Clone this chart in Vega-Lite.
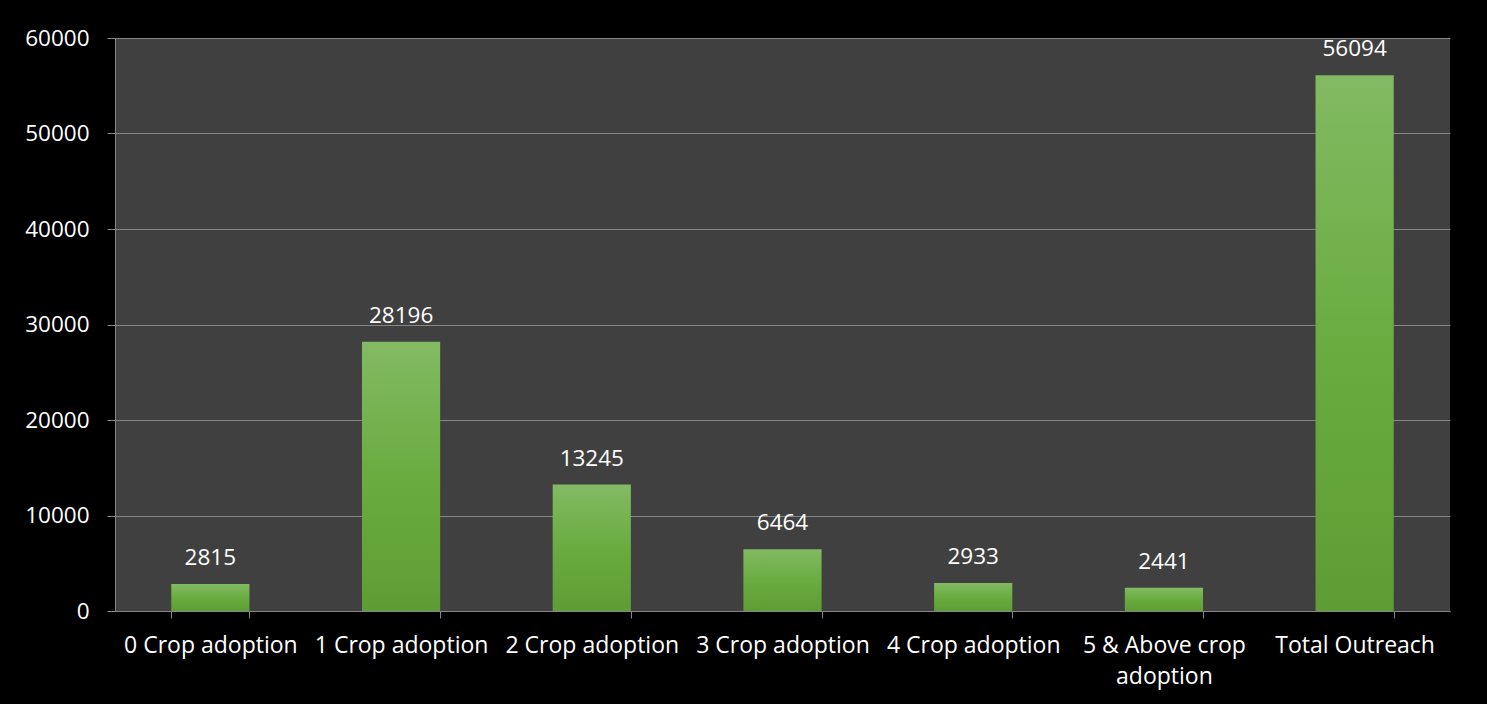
{
  "$schema": "https://vega.github.io/schema/vega-lite/v6.json",
  "width": 1335,
  "height": 573,
  "autosize": {"type": "none"},
  "padding": {"left": 115, "top": 38, "right": 37, "bottom": 93},
  "background": "#000000",
  "config": {
    "view": {"fill": "#404040", "stroke": null},
    "font": "Open Sans"
  },
  "data": {
    "values": [
      {"category": "0 Crop adoption", "value": 2815},
      {"category": "1 Crop adoption", "value": 28196},
      {"category": "2 Crop adoption", "value": 13245},
      {"category": "3 Crop adoption", "value": 6464},
      {"category": "4 Crop adoption", "value": 2933},
      {"category": "5 & Above crop adoption", "value": 2441},
      {"category": "Total Outreach", "value": 56094}
    ]
  },
  "encoding": {
    "x": {
      "field": "category",
      "type": "nominal",
      "sort": null,
      "scale": {"paddingInner": 0.59, "paddingOuter": 0.295},
      "axis": {
        "title": null,
        "labelAngle": 0,
        "labelColor": "#ffffff",
        "labelFontSize": 23,
        "labelFont": "Open Sans",
        "labelPadding": 16,
        "labelLineHeight": 31,
        "labelExpr": "datum.label == '5 & Above crop adoption' ? ['5 & Above crop', 'adoption'] : datum.label",
        "tickBand": "extent",
        "tickColor": "#868686",
        "tickSize": 7,
        "tickWidth": 1,
        "domainColor": "#868686",
        "domainWidth": 1,
        "grid": false
      }
    },
    "y": {
      "field": "value",
      "type": "quantitative",
      "scale": {"domain": [0, 60000], "nice": false},
      "axis": {
        "title": null,
        "values": [0, 10000, 20000, 30000, 40000, 50000, 60000],
        "format": "d",
        "labelColor": "#ffffff",
        "labelFontSize": 22.5,
        "labelFont": "Open Sans",
        "labelPadding": 18,
        "tickColor": "#868686",
        "tickSize": 8,
        "domainColor": "#868686",
        "grid": true,
        "gridColor": "#868686",
        "gridWidth": 1
      }
    }
  },
  "layer": [
    {
      "mark": {
        "type": "bar",
        "color": {
          "gradient": "linear",
          "x1": 0, "y1": 0, "x2": 0, "y2": 1,
          "stops": [
            {"offset": 0, "color": "#82BA63"},
            {"offset": 0.5, "color": "#6AAC40"},
            {"offset": 1, "color": "#5E9D33"}
          ]
        }
      }
    },
    {
      "mark": {
        "type": "text",
        "baseline": "alphabetic",
        "dy": -19,
        "color": "#ffffff",
        "fontSize": 22.5,
        "font": "Open Sans"
      },
      "encoding": {"text": {"field": "value", "type": "quantitative", "format": "d"}}
    }
  ]
}
